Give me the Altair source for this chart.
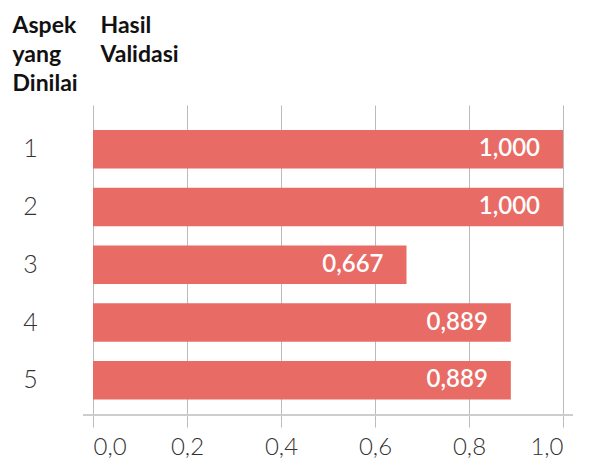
import altair as alt
import pandas as pd

categories = ["1", "2", "3", "4", "5"]
values = [1.000, 1.000, 0.667, 0.889, 0.889]
x_ticks = [0.0, 0.2, 0.4, 0.6, 0.8, 1.0]

df = pd.DataFrame({"aspek": categories, "nilai": values})

FONT = "Lato"
W, H = 470, 316
PAD_L, PAD_T = 85, 97
SVG_W, SVG_H = 574, 455

y_enc = alt.Y(
    "aspek:N",
    sort=categories,
    scale=alt.Scale(paddingInner=0.333, paddingOuter=0.403, align=0.538),
    axis=alt.Axis(
        title=["Aspek", "yang", "Dinilai"],
        titleAngle=0,
        titleAlign="left",
        titleBaseline="alphabetic",
        titleX=-81,
        titleY=-73,
        titleFont=FONT,
        titleFontSize=23,
        titleFontWeight="bold",
        titleColor="#111111",
        titleLineHeight=29,
        domain=False,
        ticks=False,
        labelAlign="center",
        labelPadding=63,
        labelFont=FONT,
        labelFontSize=25,
        labelFontWeight=300,
        labelColor="#333333",
    ),
)

x_enc = alt.X(
    "nilai:Q",
    scale=alt.Scale(domain=[0, 1], nice=False),
    axis=alt.Axis(
        values=x_ticks,
        labelExpr="replace(format(datum.value, '.1f'), '.', ',')",
        title=["Hasil", "Validasi"],
        titleAngle=0,
        titleAlign="left",
        titleBaseline="alphabetic",
        titleX=7,
        titleY=32 - 105 - H,
        titleFont=FONT,
        titleFontSize=23,
        titleFontWeight="bold",
        titleColor="#111111",
        titleLineHeight=29,
        domain=False,
        ticks=True,
        tickSize=6,
        tickColor="#bbbbbb",
        grid=True,
        gridColor="#bbbbbb",
        labelPadding=8,
        labelFont=FONT,
        labelFontSize=24,
        labelFontWeight=300,
        labelColor="#333333",
    ),
)

base = alt.Chart(df)

bars = base.mark_bar(color="#e96b65").encode(x=x_enc, y=y_enc)

labels = base.transform_calculate(
    lbl="replace(format(datum.nilai, '.3f'), '.', ',')"
).mark_text(
    align="right", baseline="middle", dx=-23, color="white",
    font=FONT, fontSize=24, fontWeight=600
).encode(x="nilai:Q", y=alt.Y("aspek:N", sort=categories), text="lbl:N")

axis_line = alt.Chart(df).mark_rule(color="#cccccc", strokeWidth=1.5).encode(
    x=alt.value(-10), x2=alt.value(W + 10), y=alt.value(H - 6)
)

chart = alt.layer(bars, labels, axis_line).properties(
    width=W,
    height=H,
    autosize=alt.AutoSizeParams(type="none"),
    padding={"left": PAD_L, "top": PAD_T,
             "right": SVG_W - PAD_L - W, "bottom": SVG_H - PAD_T - H},
).configure_view(stroke=None)

chart.save("out.html", embed_options={"renderer": "svg", "actions": False})
